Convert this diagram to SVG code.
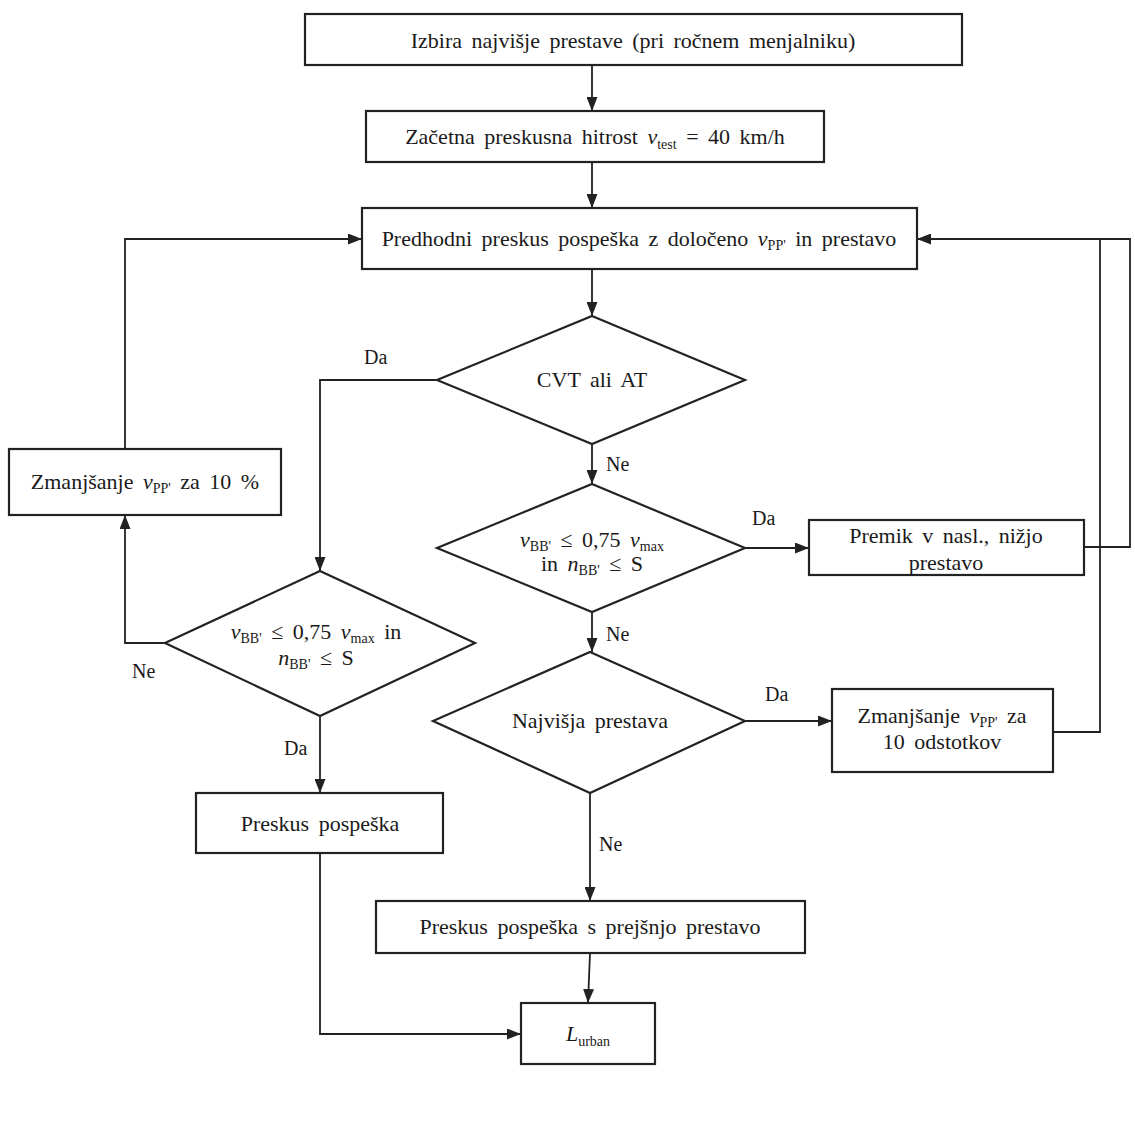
<svg xmlns="http://www.w3.org/2000/svg" width="1135" height="1135" viewBox="0 0 1135 1135">
<defs>
<marker id="ah" viewBox="0 0 14 11" refX="14" refY="5.5" markerWidth="14" markerHeight="11" markerUnits="userSpaceOnUse" orient="auto">
<path d="M0,0 L14,5.5 L0,11 Z" fill="#222"/>
</marker>
<style>
.n{fill:#fff;stroke:#222;stroke-width:2.2}
.t{font-family:"Liberation Serif","DejaVu Serif",serif;font-size:22px;fill:#1a1a1a;text-anchor:middle;word-spacing:4px}
.l{font-family:"Liberation Serif","DejaVu Serif",serif;font-size:20px;fill:#1a1a1a}
.i{font-style:italic}
.s{font-size:14px}
.c{fill:none;stroke:#222;stroke-width:1.8}
.a{marker-end:url(#ah)}
</style>
</defs>
<rect width="1135" height="1135" fill="#fff"/>
<g id="connectors">
<path class="c a" d="M592,65 V111"/>
<path class="c a" d="M592,162 V208"/>
<path class="c a" d="M592,269 V316"/>
<path class="c a" d="M437,380 H320 V571"/>
<path class="c a" d="M592,444 V484"/>
<path class="c a" d="M745,548 H809"/>
<path class="c a" d="M592,612 V652"/>
<path class="c a" d="M745,721 H832"/>
<path class="c a" d="M590,793 V901"/>
<path class="c a" d="M590,953 L588,1003"/>
<path class="c a" d="M165,643 H125 V515"/>
<path class="c a" d="M125,449 V239 H362"/>
<path class="c a" d="M320,716 V793"/>
<path class="c a" d="M320,853 V1034 H521"/>
<path class="c a" d="M1084,547 H1130 V239 H917"/>
<path class="c" d="M1053,732 H1100 V239"/>
<text class="l" x="364" y="364">Da</text>
<text class="l" x="606" y="471">Ne</text>
<text class="l" x="752" y="525">Da</text>
<text class="l" x="606" y="641">Ne</text>
<text class="l" x="765" y="701">Da</text>
<text class="l" x="599" y="851">Ne</text>
<text class="l" x="132" y="678">Ne</text>
<text class="l" x="284" y="755">Da</text>
</g>
<g id="n1"><rect class="n" x="305" y="14" width="657" height="51"/><text class="t" x="633" y="48">Izbira najvišje prestave (pri ročnem menjalniku)</text></g>
<g id="n2"><rect class="n" x="366" y="111" width="458" height="51"/><text class="t" x="595" y="144">Začetna preskusna hitrost <tspan class="i">v</tspan><tspan class="s" dy="5">test</tspan><tspan dy="-5"> = 40 km/h</tspan></text></g>
<g id="n3"><rect class="n" x="362" y="208" width="555" height="61"/><text class="t" x="639" y="246">Predhodni preskus pospeška z določeno <tspan class="i">v</tspan><tspan class="s" dy="4">PP'</tspan><tspan dy="-4"> in prestavo</tspan></text></g>
<g id="d1"><polygon class="n" points="592,316 745,380 592,444 437,380"/><text class="t" x="592" y="387">CVT ali AT</text></g>
<g id="d2"><polygon class="n" points="592,484 745,548 592,612 437,548"/><text class="t" x="592" y="547"><tspan class="i">v</tspan><tspan class="s" dy="4">BB'</tspan><tspan dy="-4"> ≤ 0,75 </tspan><tspan class="i">v</tspan><tspan class="s" dy="4">max</tspan></text><text class="t" x="592" y="571">in <tspan class="i">n</tspan><tspan class="s" dy="4">BB'</tspan><tspan dy="-4"> ≤ S</tspan></text></g>
<g id="d3"><polygon class="n" points="590,652 745,721 590,793 433,721"/><text class="t" x="590" y="728">Najvišja prestava</text></g>
<g id="d4"><polygon class="n" points="320,571 475,643 320,716 165,643"/><text class="t" x="316" y="639"><tspan class="i">v</tspan><tspan class="s" dy="4">BB'</tspan><tspan dy="-4"> ≤ 0,75 </tspan><tspan class="i">v</tspan><tspan class="s" dy="4">max</tspan><tspan dy="-4"> in</tspan></text><text class="t" x="316" y="665"><tspan class="i">n</tspan><tspan class="s" dy="4">BB'</tspan><tspan dy="-4"> ≤ S</tspan></text></g>
<g id="n4"><rect class="n" x="9" y="449" width="272" height="66"/><text class="t" x="145" y="489">Zmanjšanje <tspan class="i">v</tspan><tspan class="s" dy="4">PP'</tspan><tspan dy="-4"> za 10 %</tspan></text></g>
<g id="n5"><rect class="n" x="809" y="520" width="275" height="55"/><text class="t" x="946" y="543">Premik v nasl., nižjo</text><text class="t" x="946" y="570">prestavo</text></g>
<g id="n6"><rect class="n" x="832" y="689" width="221" height="83"/><text class="t" x="942" y="723">Zmanjšanje <tspan class="i">v</tspan><tspan class="s" dy="4">PP'</tspan><tspan dy="-4"> za</tspan></text><text class="t" x="942" y="749">10 odstotkov</text></g>
<g id="n7"><rect class="n" x="196" y="793" width="247" height="60"/><text class="t" x="320" y="831">Preskus pospeška</text></g>
<g id="n8"><rect class="n" x="376" y="901" width="429" height="52"/><text class="t" x="590" y="934">Preskus pospeška s prejšnjo prestavo</text></g>
<g id="n9"><rect class="n" x="521" y="1003" width="134" height="61"/><text class="t" x="588" y="1041"><tspan class="i">L</tspan><tspan class="s" dy="5">urban</tspan></text></g>
</svg>
